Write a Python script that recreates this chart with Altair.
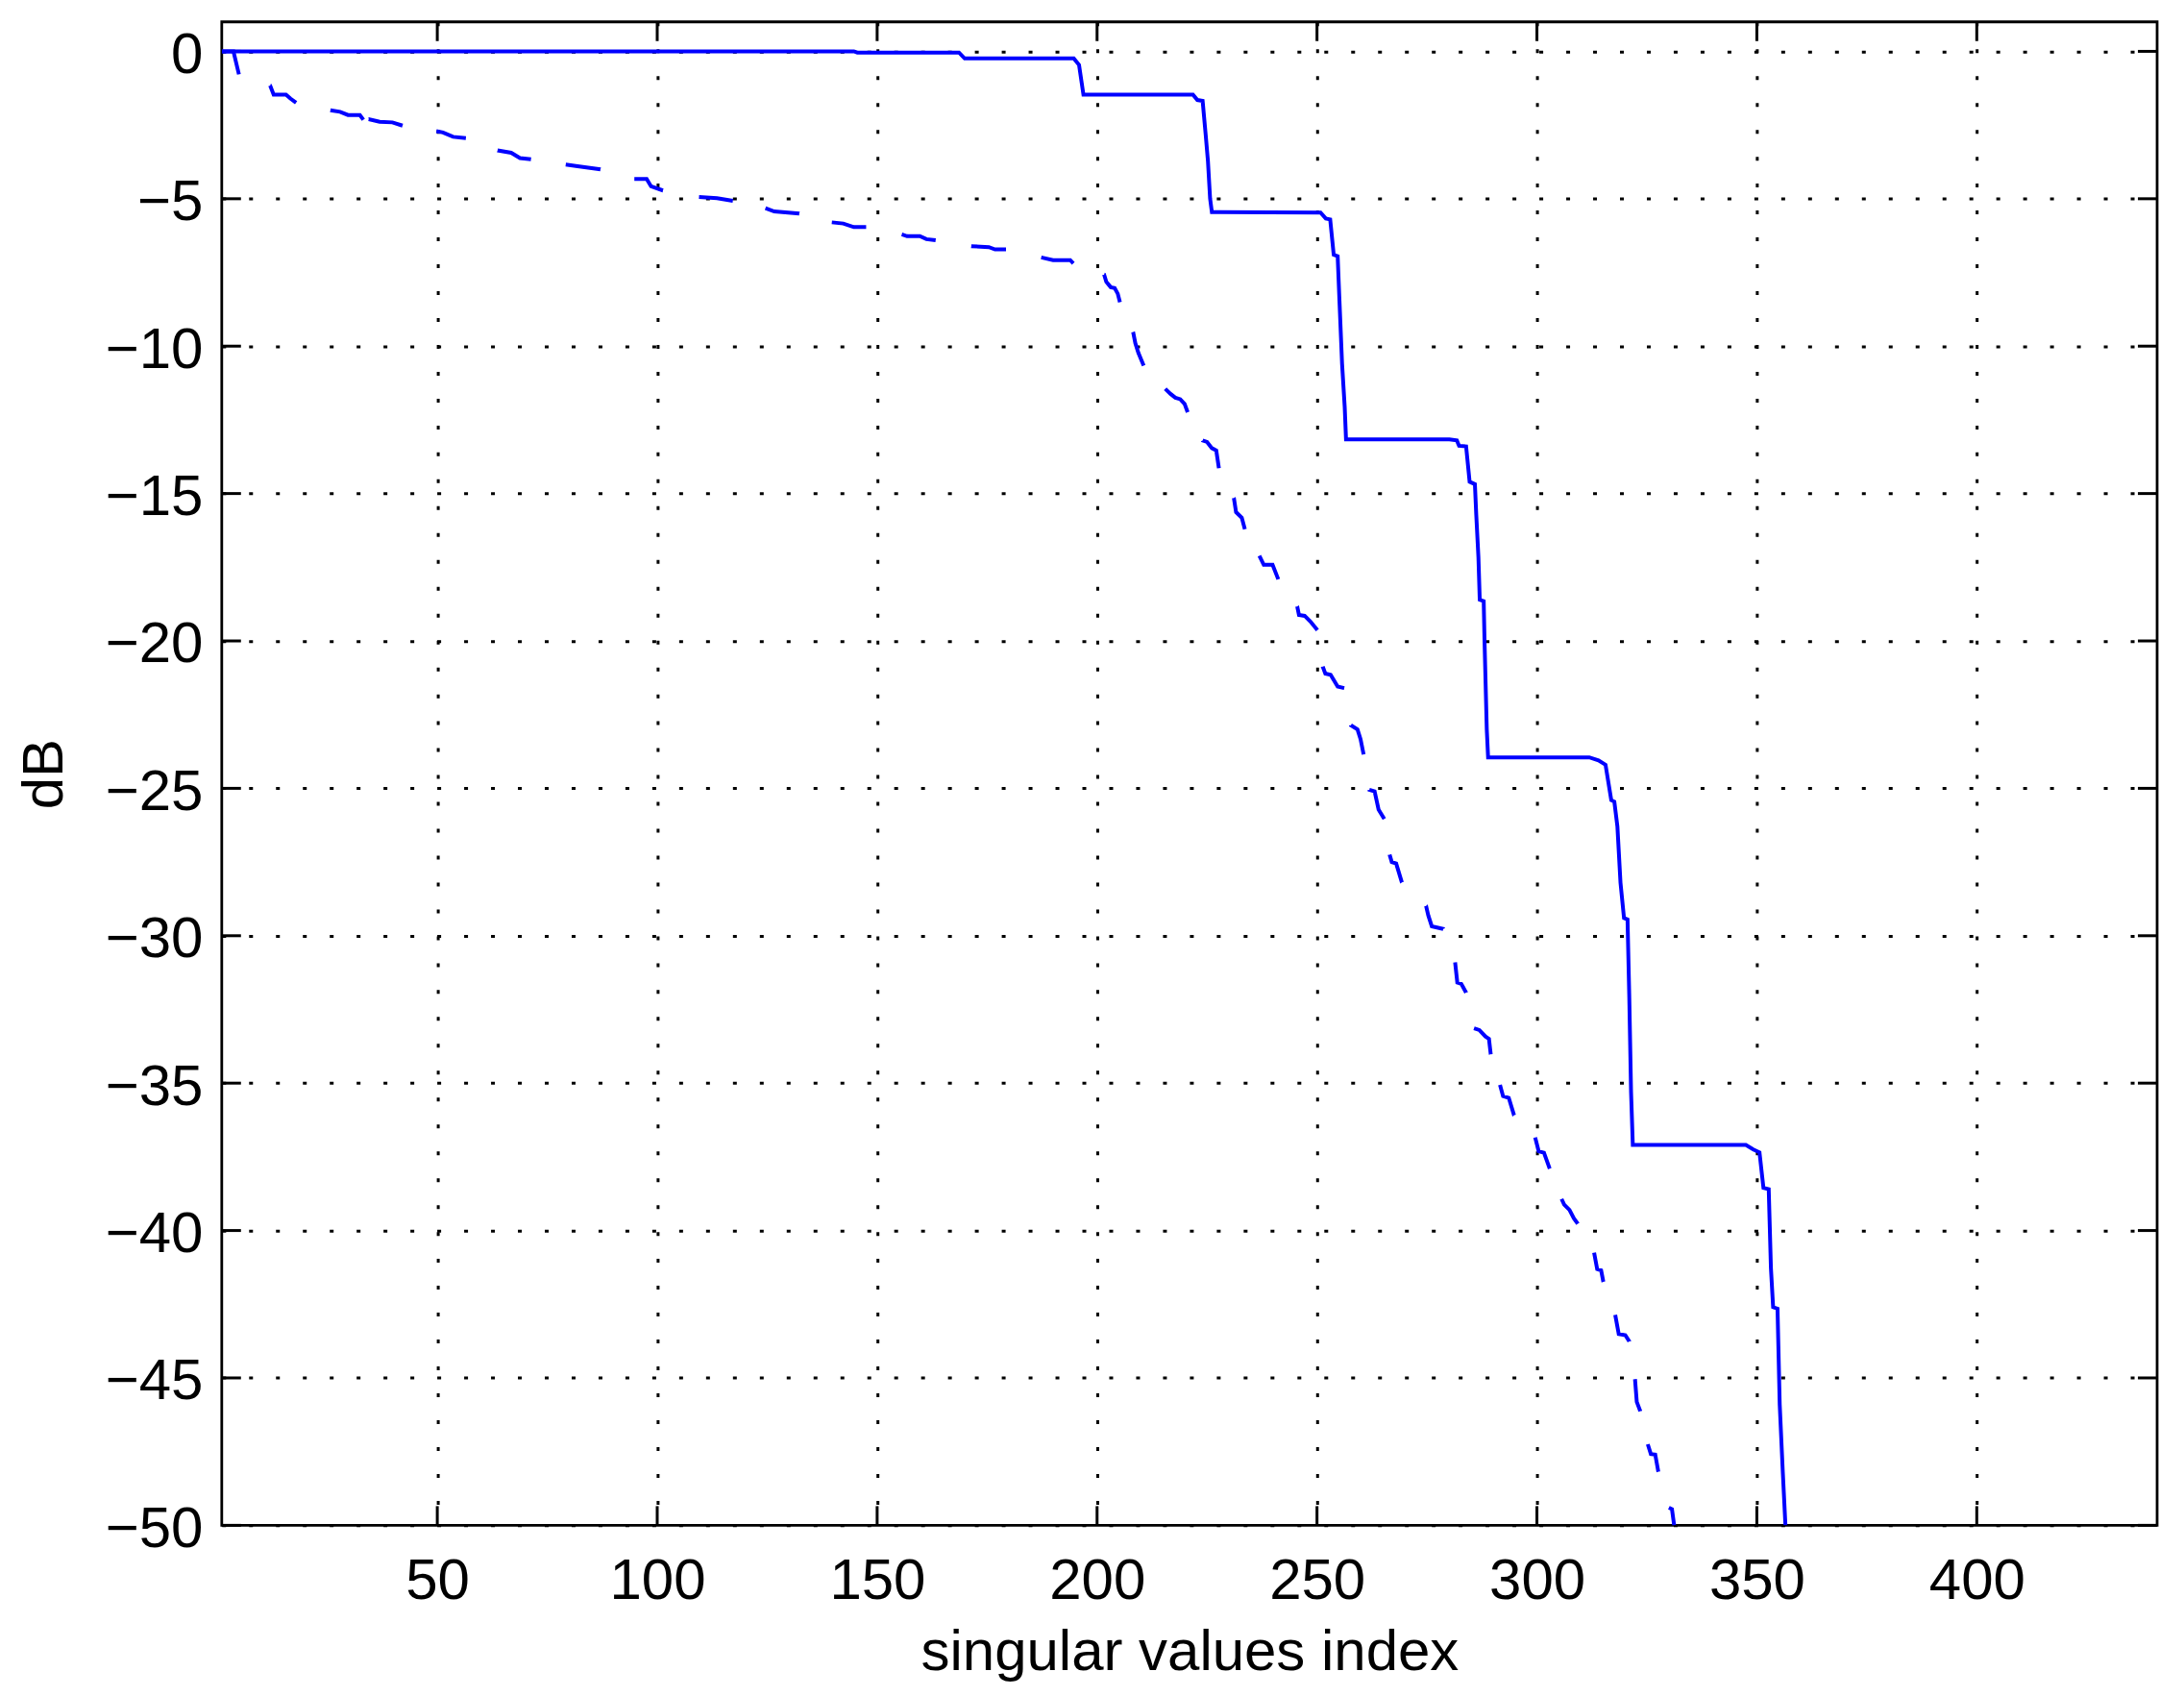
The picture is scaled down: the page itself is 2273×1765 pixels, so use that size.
import altair as alt
import pandas as pd
import math

# ---------------- data ----------------
solid_x = [1, 144.7, 145.5, 168.6, 169.9, 194.7, 195.9, 196.9,
           221.8, 222.8, 224.0, 224.7, 225.2, 225.7, 226.1,
           250.8, 252.0, 253.0, 253.8, 254.7, 255.1, 255.7, 256.3, 256.6,
           280.1, 281.8, 282.3, 283.9, 284.7, 285.9, 286.2, 286.7, 287.0, 287.9, 288.1, 288.6, 288.9,
           311.9, 314.0, 315.6, 316.9, 317.6, 318.3, 319.0, 319.8, 320.6, 321.0, 321.4, 321.8,
           347.5, 349.2, 350.6, 351.5, 352.7, 353.2, 353.7, 354.7, 355.2, 355.9, 356.5]
solid_y = [0, 0, -0.04, -0.04, -0.24, -0.24, -0.46, -1.47,
           -1.47, -1.65, -1.68, -2.84, -3.71, -5.0, -5.45,
           -5.47, -5.67, -5.7, -6.9, -6.95, -8.43, -10.6, -12.06, -13.16,
           -13.16, -13.2, -13.38, -13.4, -14.6, -14.68, -15.7, -17.16, -18.6, -18.65, -20.07, -23.0, -23.95,
           -23.95, -24.05, -24.2, -25.4, -25.45, -26.3, -28.2, -29.4, -29.45, -32.1, -35.3, -37.1,
           -37.1, -37.25, -37.35, -38.55, -38.6, -41.27, -42.6, -42.65, -45.9, -48.2, -50.0]

dash_x = [1, 3.66, 4.9, 12.0, 12.8, 15.6, 16.6, 17.9, 25.7, 27.9, 29.7, 32.4, 33.2,
          34.4, 36.9, 39.8, 42.1, 49.8, 51.3, 53.6, 56.5, 63.7, 66.8, 68.8, 71.3,
          79.2, 81.9, 87.1, 94.8, 97.6, 98.6, 101.3, 109.5, 113.6, 117.2,
          124.6, 126.6, 132.3, 139.7, 142.3, 144.7, 147.5, 155.6, 156.8, 159.7, 161.2, 163.3,
          171.4, 175.4, 176.8, 179.3, 187.3, 190.0, 193.9, 194.6,
          201.6, 202.1, 203.1, 204.0, 204.7, 205.2, 208.2, 208.7, 209.4, 210.6,
          215.5, 216.7, 217.8, 218.9, 219.9, 220.6, 224.0, 225.0, 226.1, 227.1, 227.7,
          231.1, 231.6, 232.9, 233.6, 236.9, 237.9, 239.9, 241.2,
          245.5, 245.9, 247.2, 248.5, 250.1, 251.3, 251.9, 253.1, 254.7, 256.2,
          257.7, 259.2, 259.9, 260.6, 261.9, 263.1, 264.0, 265.3, 266.5, 267.0, 268.0, 269.3,
          274.8, 275.3, 276.1, 278.7, 281.4, 281.9, 282.8, 283.9, 285.7, 286.9, 288.3, 289.1, 289.5,
          291.6, 292.3, 293.6, 294.8, 299.6, 300.4, 301.6, 302.9,
          305.6, 306.2, 307.4, 308.4, 309.3, 313.0, 313.7, 314.6, 315.1,
          317.8, 318.6, 320.1, 321.0, 322.3, 322.7, 323.5, 325.2, 325.9, 326.9, 327.6,
          330.0, 330.7, 331.2]
dash_y = [0, 0, -0.78, -1.16, -1.47, -1.47, -1.6, -1.74, -2.0, -2.05, -2.16, -2.16, -2.32,
          -2.3, -2.39, -2.41, -2.52, -2.71, -2.75, -2.9, -2.94, -3.36, -3.44, -3.62, -3.66,
          -3.84, -3.9, -4.0, -4.33, -4.33, -4.58, -4.72, -4.94, -4.98, -5.07,
          -5.32, -5.43, -5.5, -5.8, -5.84, -5.96, -5.96, -6.21, -6.27, -6.27, -6.37, -6.41,
          -6.61, -6.64, -6.72, -6.72, -6.99, -7.08, -7.08, -7.19,
          -7.57, -7.82, -8.0, -8.03, -8.22, -8.51, -9.52, -9.9, -10.23, -10.66,
          -11.45, -11.62, -11.75, -11.8, -11.96, -12.24, -13.2, -13.25, -13.46, -13.54, -14.14,
          -15.15, -15.63, -15.82, -16.21, -17.11, -17.42, -17.42, -17.91,
          -18.83, -19.12, -19.15, -19.34, -19.63, -20.87, -21.11, -21.15, -21.55, -21.6,
          -22.86, -23.0, -23.33, -23.85, -25.05, -25.1, -25.72, -26.04, -27.25, -27.5, -27.55, -28.19,
          -28.99, -29.31, -29.68, -29.77, -30.9, -31.59, -31.63, -31.93, -33.14, -33.2, -33.42, -33.5, -34.02,
          -35.06, -35.44, -35.5, -36.09, -36.84, -37.31, -37.36, -37.9,
          -38.93, -39.12, -39.3, -39.59, -39.77, -40.75, -41.31, -41.35, -41.74,
          -42.86, -43.51, -43.55, -43.76, -45.04, -45.81, -46.13, -47.25, -47.58, -47.6, -48.18,
          -49.4, -49.45, -50.0]

# where the visible dashes of the dashed curve start (x of first point of each dash)
dash_starts = [1, 12.0, 25.7, 34.4, 49.8, 63.7, 79.2, 94.8, 109.5, 124.6, 139.7,
               155.6, 171.4, 187.3, 201.6, 208.2, 215.5, 224.0, 231.1, 236.9, 245.5,
               251.3, 257.7, 261.9, 266.5, 274.8, 281.4, 285.7, 291.6, 299.6, 305.6,
               313.0, 317.8, 322.3, 325.2, 330.0]

x_ticks = [50, 100, 150, 200, 250, 300, 350, 400]
y_ticks = [0, -5, -10, -15, -20, -25, -30, -35, -40, -45, -50]

# ---------------- chart ----------------
W, H = 2016, 1566
X_DOM = [1, 441]
Y_DOM = [-50, 1]
FONT = "Liberation Sans"
BLUE = "#0000ff"
TICK = 20
LW = 4

# dash pattern (style) following the reference's dash phase along the curve
sx = W / (X_DOM[1] - X_DOM[0])
sy = H / (Y_DOM[1] - Y_DOM[0])
cum = [0.0]
for i in range(1, len(dash_x)):
    cum.append(cum[-1] + math.hypot((dash_x[i] - dash_x[i - 1]) * sx,
                                    (dash_y[i] - dash_y[i - 1]) * sy))
start_idx = [dash_x.index(s) for s in dash_starts]
dash_array = []
for k, si in enumerate(start_idx):
    if k + 1 < len(start_idx):
        ei = start_idx[k + 1] - 1
        dash_array.append(round(cum[ei] - cum[si], 2))
        dash_array.append(round(cum[start_idx[k + 1]] - cum[ei], 2))
    else:
        dash_array.append(round(cum[-1] - cum[si] + 5, 2))
        dash_array.append(1000)

solid_df = pd.DataFrame({"idx": solid_x, "dB": solid_y})
dash_df = pd.DataFrame({"idx": dash_x, "dB": dash_y})
xt_df = pd.DataFrame({"idx": x_ticks})
yt_df = pd.DataFrame({"dB": y_ticks})

xscale = alt.Scale(domain=X_DOM, nice=False, zero=False)
yscale = alt.Scale(domain=Y_DOM, nice=False, zero=False)

x_axis = alt.Axis(values=x_ticks, title="singular values index", format="d",
                  grid=True, ticks=False, domain=False,
                  labelFontSize=60, labelPadding=76, labelBaseline="alphabetic",
                  labelFlush=False, labelOverlap=False,
                  titleFontSize=60, titleFontWeight="normal",
                  titleX=W / 2, titleY=150, titleBaseline="alphabetic", titleAlign="center")
y_axis = alt.Axis(values=y_ticks, title="dB", format="d",
                  grid=True, ticks=False, domain=False,
                  labelFontSize=60, labelPadding=20, labelBaseline="alphabetic",
                  labelOffset=22, labelAlign="right", labelFlush=False, labelOverlap=False,
                  titleFontSize=60, titleFontWeight="normal",
                  titleX=-166, titleY=H / 2, titleAngle=270,
                  titleBaseline="alphabetic", titleAlign="center")

X = alt.X("idx:Q", scale=xscale, axis=x_axis)
Y = alt.Y("dB:Q", scale=yscale, axis=y_axis)

solid = alt.Chart(solid_df).mark_line(color=BLUE, strokeWidth=LW, clip=True).encode(x=X, y=Y)
dashed = alt.Chart(dash_df).mark_line(color=BLUE, strokeWidth=LW, clip=True,
                                      strokeDash=dash_array).encode(x=X, y=Y)

tick_style = dict(color="black", strokeWidth=3)
xt_bottom = alt.Chart(xt_df).mark_rule(**tick_style).encode(
    x=X, y=alt.value(H), y2=alt.value(H - TICK))
xt_top = alt.Chart(xt_df).mark_rule(**tick_style).encode(
    x=X, y=alt.value(0), y2=alt.value(TICK))
yt_left = alt.Chart(yt_df).mark_rule(**tick_style).encode(
    y=Y, x=alt.value(0), x2=alt.value(TICK))
yt_right = alt.Chart(yt_df).mark_rule(**tick_style).encode(
    y=Y, x=alt.value(W - TICK), x2=alt.value(W))

chart = alt.layer(xt_bottom, xt_top, yt_left, yt_right, dashed, solid).properties(
    width=W, height=H,
    autosize=alt.AutoSizeParams(type="none"),
    padding={"left": 223, "top": 14, "right": 20, "bottom": 170},
    background="white",
).configure_view(
    stroke="black", strokeWidth=2.8,
).configure_axis(
    gridColor="black", gridDash=[4, 24], gridWidth=3, gridOpacity=1,
    labelColor="black", titleColor="black", labelFont=FONT, titleFont=FONT,
)

chart.save("out.html", embed_options={"renderer": "svg", "actions": False})
